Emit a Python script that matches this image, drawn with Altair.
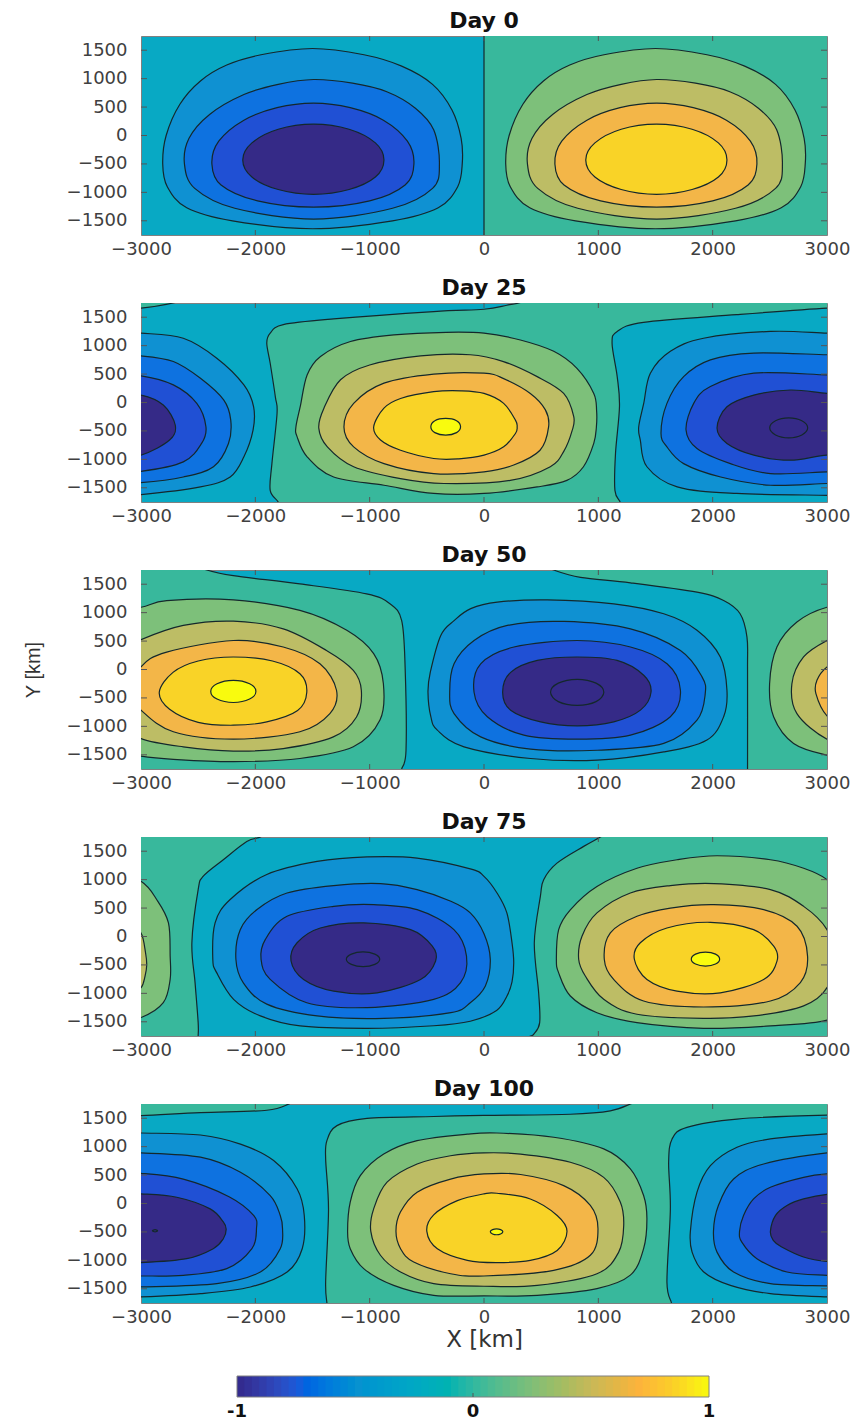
import altair as alt
import numpy as np
import pandas as pd

C = {
    "teal": "#38b89c", "n1": "#0f91d2", "n2": "#0e72e0", "n3": "#2050d4", "n4": "#352a87",
    "p1": "#7dc07a", "p2": "#bdbd65", "p3": "#f3b648", "p4": "#f9d327", "p5": "#f9fb0e",
}
BASE = "#08a9c4"
LINE = "#14282c"

DAY_0 = [
    ("teal", [(0,-2100),(0,-1850),(0,-1750),(0,-1000),(0,0),(0,1000),(0,1750),(0,1850),(0,2100),(3400,2100),(3400,-2100)]),
    ("n1", [(-2810,-500),(-2780,0),(-2660,550),(-2480,960),(-2250,1240),(-1950,1420),(-1500,1530),(-1050,1420),(-720,1220),(-450,900),(-280,450),(-200,-50),(-190,-490),(-230,-900),(-400,-1270),(-800,-1500),(-1500,-1640),(-2200,-1500),(-2600,-1270),(-2770,-900)]),
    ("n2", [(-2620,-500),(-2580,-50),(-2400,370),(-2100,720),(-1800,900),(-1490,985),(-1150,920),(-850,770),(-600,480),(-440,100),(-390,-500),(-450,-930),(-800,-1280),(-1490,-1470),(-2180,-1280),(-2530,-930)]),
    ("n3", [(-2380,-500),(-2320,-100),(-2100,270),(-1810,490),(-1490,570),(-1170,490),(-880,270),(-670,-100),(-613,-500),(-690,-870),(-1000,-1150),(-1490,-1260),(-1980,-1150),(-2300,-870)]),
    ("n4", [(-2110,-430),(-2030,-130),(-1800,110),(-1490,200),(-1180,110),(-950,-130),(-875,-430),(-950,-730),(-1180,-950),(-1490,-1035),(-1800,-950),(-2030,-730)]),
    ("p1", [(190,-500),(220,0),(340,550),(520,960),(750,1240),(1050,1420),(1500,1530),(1950,1420),(2280,1220),(2550,900),(2720,450),(2800,-50),(2810,-490),(2770,-900),(2600,-1270),(2200,-1500),(1500,-1640),(800,-1500),(400,-1270),(230,-900)]),
    ("p2", [(380,-500),(420,-50),(600,370),(900,720),(1200,900),(1510,985),(1850,920),(2150,770),(2400,480),(2560,100),(2610,-500),(2550,-930),(2200,-1280),(1510,-1470),(820,-1280),(470,-930)]),
    ("p3", [(620,-500),(680,-100),(900,270),(1190,490),(1510,570),(1830,490),(2120,270),(2330,-100),(2387,-500),(2310,-870),(2000,-1150),(1510,-1260),(1020,-1150),(700,-870)]),
    ("p4", [(890,-430),(970,-130),(1200,110),(1510,200),(1820,110),(2050,-130),(2125,-430),(2050,-730),(1820,-950),(1510,-1035),(1200,-950),(970,-730)]),
]

DAY_25 = [
    ("teal", [(-3400,1640),(-3000,1660),(-2700,1760),(-2600,1850),(-2600,2100),(-3400,2100)]),
    ("teal", [(-1800,-2100),(-1800,-1850),(-1800,-1750),(-1870,-1545),(-1855,-1075),(-1810,-190),(-1825,100),(-1870,690),(-1900,1045),(-1870,1220),(-1755,1370),(-1315,1470),(-440,1600),(0,1640),(200,1710),(320,1760),(400,1850),(400,2100),(3400,2100),(3400,1680),(3000,1660),(2210,1545),(1395,1410),(1165,1250),(1120,1045),(1165,455),(1185,-70),(1150,-900),(1145,-1545),(1190,-1750),(1190,-1850),(1190,-2100)]),
    ("p1", [(-1645,-430),(-1605,-50),(-1547,485),(-1430,810),(-1168,1073),(-788,1190),(-330,1235),(0,1220),(318,1100),(610,900),(813,600),(960,160),(985,-150),(983,-430),(960,-720),(870,-1130),(725,-1370),(465,-1485),(0,-1600),(-440,-1600),(-875,-1455),(-1315,-1310),(-1547,-955),(-1635,-600)]),
    ("p2", [(-1445,-450),(-1400,-100),(-1255,400),(-1000,660),(-555,820),(-120,840),(170,720),(465,455),(697,160),(785,-250),(770,-500),(700,-850),(580,-1130),(230,-1370),(-350,-1425),(-730,-1340),(-1140,-1130),(-1370,-780)]),
    ("p3", [(-1225,-430),(-1140,-15),(-875,340),(-440,500),(0,515),(172,420),(405,160),(537,-130),(565,-430),(490,-840),(260,-1100),(0,-1220),(-440,-1250),(-875,-1075),(-1140,-780)]),
    ("p4", [(-965,-430),(-875,-100),(-730,70),(-440,190),(-200,205),(0,160),(172,-15),(275,-310),(290,-430),(275,-545),(172,-780),(0,-925),(-220,-990),(-440,-985),(-730,-840),(-905,-660)]),
    ("p5", [(-465,-427),(-430,-320),(-335,-280),(-240,-320),(-205,-427),(-240,-530),(-335,-575),(-430,-530)]),
    ("n1", [(1353,-430),(1397,-15),(1455,515),(1630,900),(1920,1130),(2505,1250),(3000,1220),(3300,1200),(3300,-1640),(3000,-1632),(2210,-1600),(1690,-1485),(1425,-1130),(1367,-660)]),
    ("n1", [(-3300,1240),(-3000,1220),(-2630,1130),(-2337,780),(-2100,310),(-2015,-75),(-2020,-485),(-2100,-955),(-2220,-1310),(-2480,-1485),(-3000,-1620),(-3300,-1640)]),
    ("n2", [(1548,-540),(1600,-15),(1746,455),(1980,750),(2360,870),(3000,840),(3300,830),(3300,-1420),(3000,-1425),(2505,-1455),(2070,-1310),(1746,-1075),(1600,-780)]),
    ("n2", [(-3300,830),(-3000,820),(-2717,720),(-2480,425),(-2277,45),(-2215,-310),(-2235,-720),(-2366,-1130),(-2630,-1310),(-3000,-1410),(-3300,-1420)]),
    ("n3", [(1767,-485),(1834,-15),(1980,280),(2360,515),(3000,485),(3300,470),(3300,-1210),(3000,-1220),(2505,-1250),(2155,-1075),(1863,-810)]),
    ("n3", [(-3300,480),(-3000,470),(-2717,310),(-2512,-15),(-2432,-427),(-2470,-720),(-2630,-1045),(-3000,-1210),(-3300,-1215)]),
    ("n4", [(2038,-450),(2125,-75),(2360,130),(2680,220),(3000,160),(3300,120),(3300,-950),(3000,-925),(2680,-1015),(2360,-925),(2125,-720)]),
    ("n4", [(-3300,170),(-3000,130),(-2805,-45),(-2700,-400),(-2750,-660),(-3000,-925),(-3300,-1000)]),
    ("n4", [(2499,-445),(2550,-320),(2665,-269),(2780,-320),(2831,-445),(2780,-570),(2665,-621),(2550,-570)]),
]

DAY_50 = [
    ("teal", [(-3400,2100),(-2500,2100),(-2500,1850),(-2425,1750),(-2192,1650),(-1610,1505),(-1027,1330),(-822,1155),(-720,860),(-690,45),(-682,-1420),(-720,-1750),(-720,-1850),(-720,-2100),(-3400,-2100)]),
    ("teal", [(520,2100),(520,1850),(610,1750),(844,1620),(1281,1525),(1863,1360),(2096,1213),(2240,980),(2300,570),(2305,0),(2305,-1750),(2305,-1850),(2305,-2100),(3400,-2100),(3400,2100)]),
    ("p1", [(-3300,1050),(-3000,1095),(-2775,1213),(-2192,1225),(-1610,1040),(-1200,690),(-965,280),(-880,-250),(-910,-890),(-1143,-1360),(-1610,-1565),(-2192,-1620),(-2717,-1580),(-3000,-1525),(-3300,-1400)]),
    ("p1", [(3000,1095),(2737,835),(2562,395),(2498,-250),(2533,-830),(2708,-1300),(3000,-1505),(3300,-1580),(3300,1150)]),
    ("p2", [(-3307,-250),(-3200,300),(-3000,525),(-2630,775),(-2192,850),(-1756,715),(-1378,335),(-1143,-15),(-1073,-365),(-1115,-835),(-1318,-1185),(-1756,-1390),(-2192,-1435),(-2630,-1360),(-3000,-1215),(-3220,-900)]),
    ("p2", [(3000,510),(2795,220),(2693,-250),(2737,-775),(3000,-1225),(3300,-1370),(3300,750)]),
    ("p3", [(-3097,-425),(-3000,45),(-2775,305),(-2192,510),(-1756,395),(-1435,100),(-1290,-365),(-1348,-775),(-1610,-1095),(-2192,-1225),(-2717,-1095),(-3000,-715)]),
    ("p3", [(3000,45),(2912,-190),(2903,-425),(3000,-815),(3225,-1095),(3225,305)]),
    ("p4", [(-2840,-400),(-2720,-50),(-2500,150),(-2192,220),(-1850,150),(-1610,-75),(-1550,-400),(-1630,-720),(-1900,-920),(-2192,-980),(-2500,-930),(-2750,-700)]),
    ("p5", [(-2390,-385),(-2335,-250),(-2192,-190),(-2050,-250),(-1995,-385),(-2050,-520),(-2192,-580),(-2335,-520)]),
    ("n1", [(-490,-400),(-470,-50),(-378,600),(-262,860),(-116,1070),(116,1185),(553,1225),(1135,1155),(1572,980),(1863,690),(2067,220),(2125,-365),(2096,-830),(1950,-1240),(1572,-1450),(990,-1595),(407,-1565),(-175,-1360),(-408,-1067),(-465,-830)]),
    ("n2", [(-300,-400),(-262,100),(-87,510),(204,775),(699,845),(1281,715),(1718,335),(1907,-130),(1935,-425),(1863,-890),(1572,-1300),(990,-1420),(407,-1400),(-29,-1185),(-262,-775)]),
    ("n3", [(-87,-400),(-29,100),(262,395),(815,510),(1281,395),(1601,100),(1718,-365),(1630,-830),(1281,-1155),(815,-1225),(349,-1155),(29,-830)]),
    ("n4", [(163,-400),(233,-50),(466,160),(815,220),(1164,160),(1397,-100),(1461,-395),(1368,-715),(1135,-920),(815,-990),(495,-920),(233,-715)]),
    ("n4", [(582,-400),(650,-240),(815,-172),(980,-240),(1048,-400),(980,-565),(815,-630),(650,-565)]),
]

DAY_75 = [
    ("teal", [(-3400,2100),(-1900,2100),(-1900,1850),(-1956,1750),(-2075,1670),(-2280,1350),(-2455,1060),(-2500,825),(-2555,-110),(-2527,-815),(-2500,-1515),(-2500,-1750),(-2500,-1850),(-2500,-2100),(-3400,-2100)]),
    ("teal", [(1100,2100),(1100,1850),(1018,1750),(872,1585),(638,1290),(522,1000),(493,705),(440,-110),(478,-990),(487,-1515),(434,-1720),(380,-1800),(380,-2100),(3400,-2100),(3400,2100)]),
    ("p1", [(633,-400),(653,120),(755,470),(988,880),(1338,1200),(1688,1350),(2038,1420),(2505,1350),(2796,1200),(3000,1000),(3137,650),(3255,-345),(3195,-1165),(3000,-1470),(2505,-1573),(1920,-1615),(1338,-1515),(988,-1340),(755,-1047),(653,-640)]),
    ("p1", [(-3000,970),(-2863,650),(-2760,240),(-2745,-345),(-2745,-755),(-2805,-1165),(-3000,-1425),(-3300,-1540),(-3300,1200)]),
    ("p2", [(828,-400),(857,5),(988,415),(1280,765),(1630,895),(2010,930),(2505,825),(2796,530),(3000,120),(3050,-350),(3000,-900),(2796,-1220),(2360,-1397),(1920,-1440),(1338,-1368),(1047,-1105),(886,-695)]),
    ("p2", [(-3000,60),(-2960,-290),(-2950,-500),(-2965,-700),(-3000,-900),(-3100,-1000),(-3100,100)]),
    ("p3", [(1052,-400),(1105,65),(1338,355),(1630,500),(2010,560),(2446,473),(2738,180),(2830,-345),(2767,-810),(2505,-1135),(1920,-1240),(1396,-1135),(1134,-755)]),
    ("p4", [(1315,-400),(1367,-110),(1600,150),(1980,250),(2358,120),(2534,-170),(2563,-430),(2446,-755),(2067,-990),(1688,-960),(1425,-755)]),
    ("p5", [(1813,-400),(1850,-310),(1937,-275),(2025,-310),(2061,-400),(2025,-485),(1937,-520),(1850,-485)]),
    ("n1", [(-2372,-400),(-2352,240),(-2220,650),(-1900,1090),(-1460,1320),(-1023,1400),(-585,1380),(-120,1190),(0,1058),(114,766),(200,415),(245,-110),(260,-460),(245,-800),(200,-1050),(110,-1300),(-120,-1490),(-440,-1570),(-1023,-1615),(-1608,-1573),(-1956,-1397),(-2190,-1105),(-2337,-640)]),
    ("n2", [(-2170,-400),(-2132,120),(-1985,475),(-1723,765),(-1315,895),(-905,930),(-585,825),(-290,620),(-120,415),(0,50),(55,-400),(12,-870),(-120,-1165),(-290,-1340),(-875,-1440),(-1460,-1397),(-1900,-1190),(-2105,-815)]),
    ("n3", [(-1950,-400),(-1912,-50),(-1723,355),(-1315,530),(-965,560),(-585,473),(-263,120),(-153,-345),(-205,-810),(-440,-1105),(-1023,-1250),(-1550,-1165),(-1870,-755)]),
    ("n4", [(-1688,-430),(-1635,-110),(-1432,150),(-1052,240),(-642,120),(-452,-170),(-423,-430),(-555,-755),(-935,-990),(-1315,-960),(-1578,-755)]),
    ("n4", [(-1204,-400),(-1160,-310),(-1058,-270),(-955,-310),(-912,-400),(-955,-490),(-1058,-530),(-1160,-490)]),
]

DAY_100 = [
    ("teal", [(-3400,1530),(-3000,1545),(-2480,1600),(-1900,1640),(-1695,1760),(-1600,1850),(-1600,2100),(-3400,2100)]),
    ("teal", [(-1374,-2100),(-1374,-1850),(-1374,-1750),(-1385,-1380),(-1360,-95),(-1385,785),(-1374,1105),(-1286,1370),(-1023,1497),(-440,1530),(0,1550),(755,1570),(1105,1630),(1293,1760),(1400,1850),(1400,2100),(3400,2100),(3400,1540),(3000,1555),(2213,1485),(1775,1340),(1645,1135),(1615,725),(1630,-95),(1600,-1380),(1640,-1750),(1640,-1850),(1640,-2100)]),
    ("p1", [(-1193,-490),(-1170,25),(-1082,490),(-877,870),(-585,1105),(-146,1220),(113,1240),(610,1165),(1047,960),(1280,610),(1396,140),(1425,-270),(1396,-795),(1280,-1260),(988,-1497),(465,-1615),(0,-1625),(-440,-1615),(-790,-1440),(-1052,-1146),(-1170,-795)]),
    ("p2", [(-990,-490),(-965,-95),(-848,375),(-585,695),(-293,840),(0,890),(320,870),(755,725),(1047,460),(1192,25),(1222,-385),(1178,-855),(988,-1235),(465,-1440),(0,-1455),(-440,-1410),(-730,-1205),(-906,-910)]),
    ("p3", [(-770,-490),(-731,-150),(-585,200),(-292,430),(0,520),(320,510),(697,315),(930,-35),(997,-445),(930,-910),(610,-1175),(0,-1275),(-292,-1235),(-615,-1030),(-730,-795)]),
    ("p4", [(-500,-490),(-440,-200),(-233,50),(0,170),(113,180),(405,80),(640,-210),(726,-490),(640,-825),(405,-1000),(113,-1040),(-146,-1000),(-408,-795)]),
    ("p5", [(55,-495),(75,-460),(110,-445),(145,-460),(165,-495),(145,-535),(110,-550),(75,-535)]),
    ("n1", [(-3300,1250),(-3000,1240),(-2480,1205),(-2130,1045),(-1840,755),(-1635,260),(-1572,-210),(-1590,-795),(-1722,-1205),(-2043,-1468),(-2480,-1585),(-3000,-1643),(-3300,-1650)]),
    ("n1", [(1805,-490),(1863,200),(1980,665),(2213,990),(2505,1135),(3000,1225),(3300,1250),(3300,-1650),(3000,-1643),(2505,-1585),(2155,-1440),(1922,-1205),(1820,-855)]),
    ("n2", [(-3300,890),(-3000,890),(-2480,815),(-2130,550),(-1870,140),(-1782,-210),(-1762,-445),(-1782,-795),(-1956,-1205),(-2337,-1410),(-3000,-1468),(-3300,-1470)]),
    ("n2", [(2007,-490),(2050,-35),(2183,430),(2446,695),(3000,890),(3300,895),(3300,-1460),(3000,-1450),(2505,-1410),(2183,-1205),(2038,-855)]),
    ("n3", [(-3300,535),(-3000,530),(-2630,430),(-2230,120),(-2015,-210),(-1990,-445),(-2030,-795),(-2250,-1146),(-2630,-1263),(-3000,-1275),(-3300,-1275)]),
    ("n3", [(2235,-490),(2270,-210),(2358,80),(2505,285),(2795,460),(3000,520),(3300,535),(3300,-1275),(3000,-1263),(2650,-1205),(2387,-970),(2255,-680)]),
    ("n4", [(-3300,180),(-3000,170),(-2687,110),(-2395,-95),(-2280,-325),(-2255,-455),(-2280,-620),(-2368,-795),(-2600,-970),(-3000,-1040),(-3300,-1040)]),
    ("n4", [(2505,-490),(2550,-210),(2650,-35),(2795,80),(3000,160),(3300,180),(3300,-1040),(3000,-1020),(2795,-940),(2600,-760),(2530,-650)]),
    ("n4", [(-2900,-480),(-2877,-460),(-2855,-480),(-2877,-500)]),
]

PANELS = [("Day 0", DAY_0), ("Day 25", DAY_25), ("Day 50", DAY_50), ("Day 75", DAY_75), ("Day 100", DAY_100)]
X_TICKS = [-3000, -2000, -1000, 0, 1000, 2000, 3000]
Y_TICKS = [-1500, -1000, -500, 0, 500, 1000, 1500]
X_DOMAIN = [-3000, 3000]
Y_DOMAIN = [-1750, 1750]
CB_STOPS = [-1, -0.72, -0.5, -0.25, 0, 0.25, 0.5, 0.7, 0.85, 1]
CB_COLORS = ["#33288a", "#0a60e0", "#1090d0", "#05a8c4", "#30b8a0", "#80be78", "#c8b858", "#fcb23c", "#fad028", "#f8fa0d"]
CB_TICKS = [-1, 0, 1]
CB_LABELS = ["-1", "0", "1"]

FONT = "DejaVu Sans"
W, H = 686, 199


def panel(title, rings, x_title=None, y_title=None):
    x_scale = alt.Scale(domain=X_DOMAIN, nice=False, zero=False)
    y_scale = alt.Scale(domain=Y_DOMAIN, nice=False, zero=False)
    x_axis = alt.Axis(values=X_TICKS, ticks=False, domain=False, grid=False, labelFont=FONT, labelFontSize=18,
                      labelColor="#404040", labelPadding=5, title=x_title, titleFont=FONT, titleFontSize=23,
                      titleFontWeight="normal", titleColor="#333333", titlePadding=2, labelFlush=False, format="d",
                      labelOverlap=False)
    y_axis = alt.Axis(values=Y_TICKS, ticks=False, domain=False, grid=False, labelFont=FONT, labelFontSize=18,
                      labelColor="#404040", labelPadding=14, title=y_title, titleFont="Liberation Sans", titleFontSize=20,
                      titleFontWeight="normal", titleColor="#333333", titlePadding=23, format="d", labelOverlap=False)
    layers = []
    for key, pts in rings:
        df = pd.DataFrame(pts, columns=["x", "y"])
        df["i"] = range(len(df))
        layers.append(alt.Chart(df).mark_line(interpolate="cardinal-closed", fill=C[key], stroke=LINE,
                                              strokeWidth=1.2, clip=True).encode(
            x=alt.X("x:Q", scale=x_scale, axis=x_axis),
            y=alt.Y("y:Q", scale=y_scale, axis=y_axis),
            order=alt.Order("i:Q"),
        ))
    xt = pd.DataFrame({"v": X_TICKS[1:-1]})
    yt = pd.DataFrame({"v": Y_TICKS})
    tick = "#555555"
    xe = alt.X("v:Q", scale=x_scale, axis=x_axis)
    ye = alt.Y("v:Q", scale=y_scale, axis=y_axis)
    layers.append(alt.Chart(xt).mark_rule(color=tick).encode(x=xe, y=alt.value(0), y2=alt.value(5)))
    layers.append(alt.Chart(xt).mark_rule(color=tick).encode(x=xe, y=alt.value(H), y2=alt.value(H - 5)))
    layers.append(alt.Chart(yt).mark_rule(color=tick).encode(y=ye, x=alt.value(0), x2=alt.value(6)))
    layers.append(alt.Chart(yt).mark_rule(color=tick).encode(y=ye, x=alt.value(W), x2=alt.value(W - 6)))
    return alt.layer(*layers).properties(
        width=W, height=H,
        view=alt.ViewConfig(fill=BASE, stroke="#808080", strokeWidth=1),
        title=alt.TitleParams(title, font=FONT, fontSize=22, fontWeight="bold", color="#111111", offset=3, anchor="middle"),
    )


edges = np.linspace(-1, 1, 65)
cb = pd.DataFrame({"a": edges[:-1], "b": edges[1:] + 0.006, "c": (edges[:-1] + edges[1:]) / 2})
cb.loc[cb.index[-1], "b"] = 1
cb_scale = alt.Scale(domain=[-1, 1], range=[96, 568], nice=False, zero=False)
TOP, BOT = 7, 28
cbx = alt.X("a:Q", scale=cb_scale, axis=None)
bar = alt.Chart(cb).mark_rect().encode(
    x=cbx, x2="b:Q", y=alt.value(TOP), y2=alt.value(BOT),
    color=alt.Color("c:Q", legend=None, scale=alt.Scale(domain=CB_STOPS, range=CB_COLORS)),
)
frame = alt.Chart(pd.DataFrame({"a": [-1], "b": [1]})).mark_rect(fill=None, stroke="#808080").encode(
    x=cbx, x2="b:Q", y=alt.value(TOP), y2=alt.value(BOT))
zero_tick = alt.Chart(pd.DataFrame({"v": [0]})).mark_rule(color="#555555").encode(
    x=alt.X("v:Q", scale=cb_scale, axis=None), y=alt.value(BOT), y2=alt.value(BOT - 4))
cb_text = alt.Chart(pd.DataFrame({"v": CB_TICKS, "t": CB_LABELS})).mark_text(
    font=FONT, fontSize=18, fontWeight="bold", color="#111111", baseline="middle").encode(
    x=alt.X("v:Q", scale=cb_scale, axis=None), y=alt.value(BOT + 15), text="t:N")
colorbar = alt.layer(bar, frame, zero_tick, cb_text).properties(width=W, height=BOT, view=alt.ViewConfig(stroke=None))

charts = []
for n, (t, rings) in enumerate(PANELS):
    charts.append(panel(t, rings, x_title="X [km]" if n == 4 else None, y_title="Y [km]" if n == 2 else None))

chart = alt.vconcat(*charts, colorbar, spacing=17).properties(padding={"left": 14, "top": 1, "right": 0, "bottom": 0}).configure(background="white")
chart.save("out.html", embed_options={"renderer": "svg", "actions": False})
